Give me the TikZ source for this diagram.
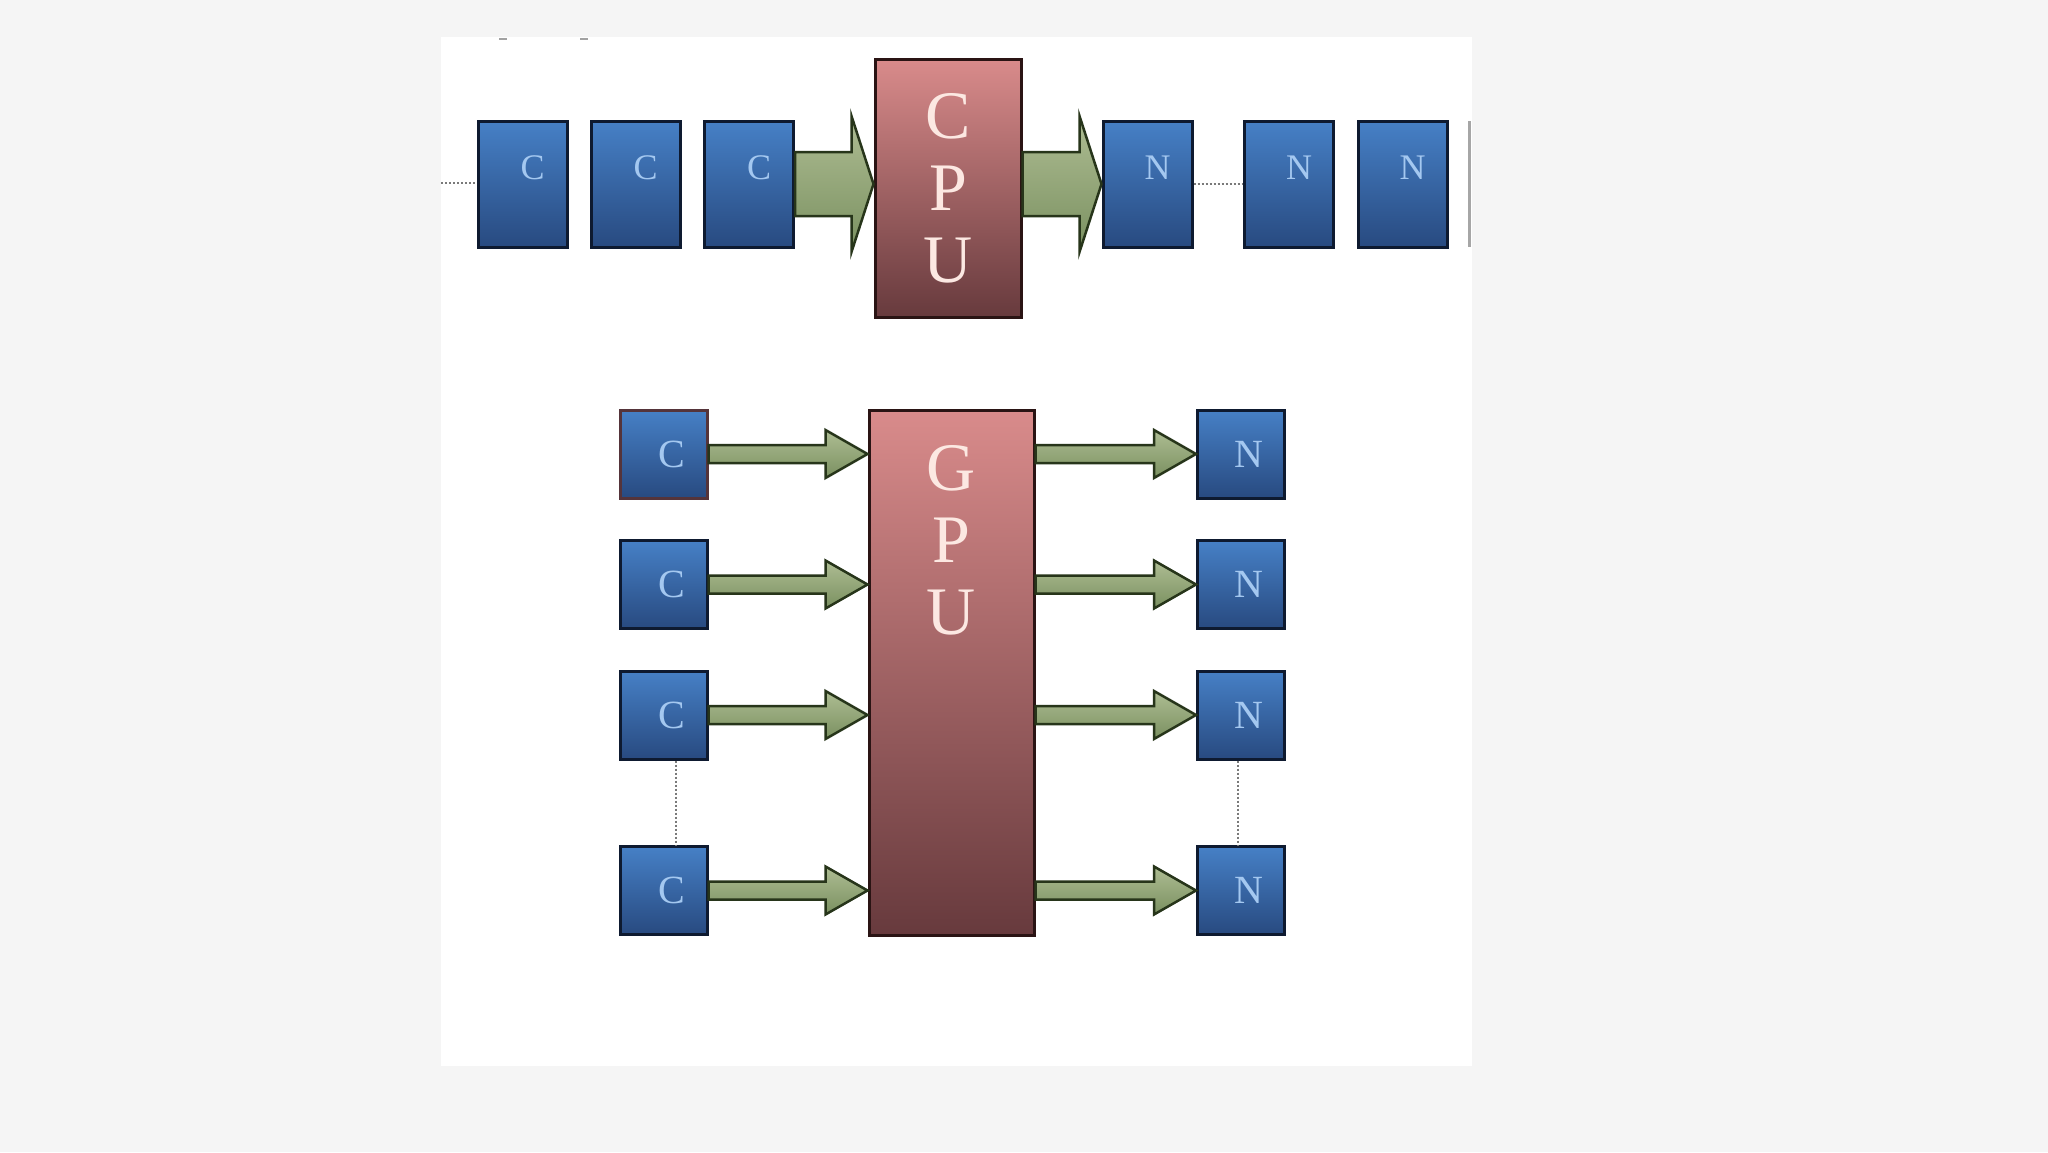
\documentclass[tikz,border=0pt]{standalone}
\usepackage{fontspec}
\setmainfont{Liberation Serif}
\usetikzlibrary{calc}
\definecolor{bggray}{HTML}{F5F5F5}
\definecolor{boxtop}{HTML}{4680C6}
\definecolor{boxbot}{HTML}{284A80}
\definecolor{boxline}{HTML}{0E1A30}
\definecolor{boxtxt}{HTML}{A4C8F0}
\definecolor{cputop}{HTML}{D98B8B}
\definecolor{cpubot}{HTML}{673A3D}
\definecolor{cpuline}{HTML}{2A1414}
\definecolor{cputxt}{HTML}{FCE8E2}
\definecolor{arrtop}{HTML}{AEBD93}
\definecolor{arrbot}{HTML}{7A9060}
\definecolor{arrline}{HTML}{27351A}
\definecolor{dotgray}{HTML}{7A7A7A}
\newcommand\fatarrow[6]{%
  \path[fatarr] let \p1=(#1), \p2=(#2), \p3=(#3) in
   (\x1,{\y3+#4}) -- ({\x2-#6},{\y3+#4}) -- ({\x2-#6},{\y3+#5}) -- (\x2,\y3)
   -- ({\x2-#6},{\y3-#5}) -- ({\x2-#6},{\y3-#4}) -- (\x1,{\y3-#4}) -- cycle;}
\begin{document}
\begin{tikzpicture}[x=1pt,y=-1pt,
  bluebox/.style={draw=boxline, line width=3pt, top color=boxtop, bottom color=boxbot,
    inner sep=0pt, text=boxtxt},
  topbox/.style={bluebox, minimum width=89pt, minimum height=126pt,
    font=\fontsize{36}{36}\selectfont, text height=24pt, text depth=34pt},
  lowbox/.style={bluebox, minimum width=87pt, minimum height=88pt,
    font=\fontsize{40}{40}\selectfont},
  redbox/.style={draw=cpuline, line width=3pt, top color=cputop, bottom color=cpubot,
    inner sep=0pt, text=cputxt, align=center,
    font=\fontsize{68}{72}\selectfont},
  biglbl/.style={inner sep=0pt, text=cputxt, align=center,
    font=\fontsize{68}{72}\selectfont},
  fatarr/.style={draw=arrline, line width=2.5pt, top color=arrtop, bottom color=arrbot,
    line join=miter},
  dotline/.style={draw=dotgray, line width=2pt, dash pattern=on 2pt off 2pt}
]
\useasboundingbox (0,0) rectangle (2048,1152);
\fill[bggray] (0,0) rectangle (2048,1152);
\fill[white] (441,37) rectangle (1472,1066);
% small marks at top
\draw[dotgray!70, line width=2pt] (499,39) -- (507,39);
\draw[dotgray!70, line width=2pt] (580,39) -- (588,39);

% ---- top row (CPU) ----
\node[topbox] (tc1) at (522.5,184) {\hspace*{20pt}C};
\node[topbox] (tc2) at (635.5,184) {\hspace*{20pt}C};
\node[topbox] (tc3) at (749,184) {\hspace*{20pt}C};
\node[redbox, minimum width=146pt, minimum height=258pt] (cpu) at (948,188) {C\\P\\U};
\node[topbox] (tn1) at (1147.5,184) {\hspace*{20pt}N};
\node[topbox] (tn2) at (1289,184) {\hspace*{20pt}N};
\node[topbox] (tn3) at (1402.5,184) {\hspace*{20pt}N};
\coordinate (tstart) at (441,183);
\draw[dotline] (tstart) -- (tstart -| tc1.west);
\draw[dotline] (tn1.east) -- (tn2.west);
\draw[gray!70, line width=3pt] (1469,121) -- (1469,247);

\fatarrow{tc3.east}{cpu.west}{tc3.center}{32pt}{68pt}{22pt}
\fatarrow{cpu.east}{tn1.west}{tn1.center}{32pt}{68pt}{22pt}

% ---- bottom (GPU) ----
\node[lowbox, draw=cpubot!80!boxline] (bc1) at (663.5,454) {\hspace*{16pt}C};
\node[lowbox] (bc2) at (663.5,584.5) {\hspace*{16pt}C};
\node[lowbox] (bc3) at (663.5,715) {\hspace*{16pt}C};
\node[lowbox] (bc4) at (663.5,890.5) {\hspace*{16pt}C};
\node[redbox, minimum width=165pt, minimum height=525pt] (gpu) at (951.5,672.5) {};
\node[biglbl] (gpulbl) at ($(gpu.north)+(0,132)$) {G\\P\\U};
\node[lowbox] (bn1) at (1241,454) {\hspace*{16pt}N};
\node[lowbox] (bn2) at (1241,584.5) {\hspace*{16pt}N};
\node[lowbox] (bn3) at (1241,715) {\hspace*{16pt}N};
\node[lowbox] (bn4) at (1241,890.5) {\hspace*{16pt}N};

\draw[dotline] ([xshift=12pt]bc3.south) -- ([xshift=12pt]bc4.north);
\draw[dotline] ([xshift=-3pt]bn3.south) -- ([xshift=-3pt]bn4.north);

\foreach \i in {1,2,3,4}{
  \fatarrow{bc\i.east}{gpu.west}{bc\i.center}{9pt}{24pt}{42pt}
  \fatarrow{gpu.east}{bn\i.west}{bn\i.center}{9pt}{24pt}{42pt}
}
\end{tikzpicture}
\end{document}
